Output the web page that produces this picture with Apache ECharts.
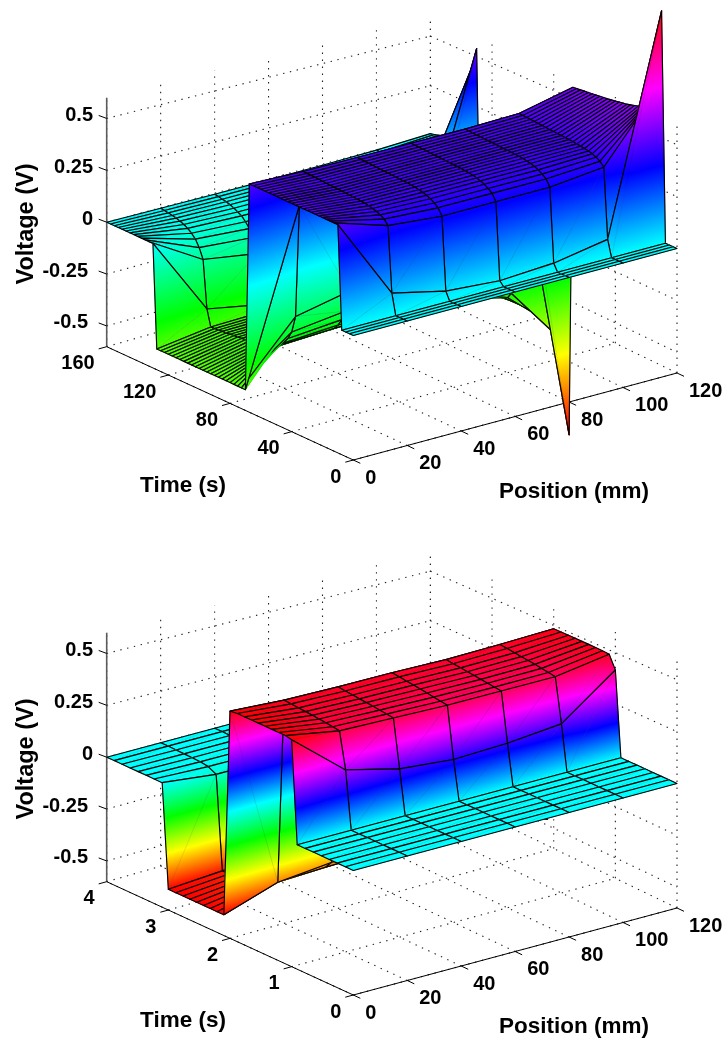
<!DOCTYPE html>
<html>
<head>
<meta charset="utf-8">
<style>html,body{margin:0;padding:0;background:#fff}#c{width:724px;height:1039px}</style>
<script src="https://cdn.jsdelivr.net/npm/echarts@6/dist/echarts.min.js"></script>
</head>
<body>
<div id="c"></div>
<script>
// ---------- data ----------
const positions = [0, 20, 40, 60, 80, 100, 120];
const positionTicks = [0, 20, 40, 60, 80, 100, 120];
const voltageTicks = [-0.5, -0.25, 0, 0.25, 0.5];
const timeTicksTop = [0, 40, 80, 120, 160];
const timeTicksBottom = [0, 1, 2, 3, 4];

const timesTop = [0,2.5,5,7.5,10,12.5,15,17.5,20,22.5,25,27.5,30,32.5,35,37.5,40,42.5,45,47.5,50,52.5,55,57.5,60,62.5,65,67.5,
  70,72.5,75,77.5,80,82.5,85,87.5,90,92.5,95,97.5,100,102.5,105,107.5,110,112.5,115,117.5,120,122.5,125,127.5,
  130,132.5,135,137.5,140,142.5,145,147.5,150,152.5,155,157.5,160];
const voltsTop = [
[0,0,0,0,0,0,0],[0,0,0,0,0,0,0],[0,0,0,0,0,0,0],[0,0,0,0,0,0,0],
[.50,.10,.04,.02,.035,.08,1.115],
[.50,.417,.393,.393,.393,.42,.73],
[.50,.44,.425,.425,.425,.44,.68],
[.50,.452,.44,.44,.44,.452,.65],
[.50,.46,.452,.452,.452,.46,.63],
[.50,.466,.46,.46,.46,.465,.615],
[.50,.47,.466,.466,.466,.469,.605],
[.50,.474,.47,.47,.47,.472,.60],
[.50,.476,.474,.474,.474,.475,.595],
[.50,.478,.476,.476,.476,.477,.59],
[.50,.479,.478,.478,.478,.479,.587],
[.50,.48,.479,.479,.479,.48,.584],
[.50,.481,.48,.48,.48,.482,.581],
[.50,.482,.481,.481,.481,.483,.578],
[.50,.483,.482,.482,.482,.485,.575],
[.50,.484,.483,.483,.483,.486,.573],
[.50,.485,.484,.484,.484,.488,.571],
[.50,.486,.485,.485,.485,.489,.569],
[.50,.487,.486,.486,.486,.491,.567],
[.50,.488,.487,.487,.487,.492,.565],
[.50,.489,.488,.488,.488,.494,.563],
[.50,.49,.489,.489,.489,.495,.561],
[.50,.491,.49,.49,.49,.497,.559],
[.50,.492,.491,.491,.491,.498,.557],
[-.5,.32,.40,.43,.41,.40,-1.16],
[-.5,-.227,-.174,-.16,-.25,-.40,-.72],
[-.5,-.31,-.28,-.27,-.33,-.43,-.66],
[-.5,-.35,-.33,-.325,-.37,-.44,-.63],
[-.5,-.38,-.365,-.36,-.39,-.445,-.61],
[-.5,-.40,-.39,-.385,-.405,-.447,-.60],
[-.5,-.415,-.405,-.40,-.415,-.449,-.597],
[-.5,-.425,-.418,-.415,-.423,-.451,-.594],
[-.5,-.432,-.428,-.425,-.43,-.452,-.591],
[-.5,-.438,-.434,-.432,-.436,-.454,-.588],
[-.5,-.442,-.44,-.438,-.44,-.456,-.585],
[-.5,-.445,-.443,-.441,-.443,-.458,-.582],
[-.5,-.447,-.445,-.443,-.445,-.46,-.579],
[-.5,-.449,-.447,-.445,-.447,-.461,-.576],
[-.5,-.451,-.449,-.447,-.449,-.462,-.573],
[-.5,-.453,-.451,-.449,-.451,-.463,-.57],
[-.5,-.455,-.453,-.451,-.453,-.464,-.567],
[-.5,-.457,-.455,-.453,-.455,-.465,-.564],
[-.5,-.459,-.457,-.455,-.457,-.466,-.561],
[-.5,-.461,-.459,-.457,-.459,-.467,-.558],
[-.5,-.462,-.46,-.458,-.46,-.468,-.555],
[-.5,-.464,-.461,-.459,-.461,-.469,-.552],
[-.5,-.466,-.462,-.46,-.462,-.47,-.549],
[-.5,-.467,-.463,-.461,-.463,-.471,-.546],
[0,-.388,-.44,-.44,-.42,-.35,.54],
[0,-.157,-.2,-.2,-.2,-.15,.45],
[0,-.108,-.13,-.13,-.13,-.10,.30],
[0,-.075,-.095,-.095,-.095,-.07,.20],
[0,-.055,-.07,-.07,-.07,-.05,.14],
[0,-.04,-.05,-.055,-.05,-.035,.10],
[0,-.03,-.04,-.042,-.04,-.025,.07],
[0,-.022,-.03,-.032,-.03,-.018,.05],
[0,-.016,-.022,-.024,-.022,-.012,.035],
[0,-.012,-.016,-.018,-.016,-.008,.025],
[0,-.008,-.012,-.013,-.012,-.005,.018],
[0,-.005,-.008,-.009,-.008,-.003,.012],
[0,-.003,-.005,-.006,-.005,-.002,.008]
];

const timesBottom = [0,.13,.26,.39,.52,.65,.78,.91,1.0,1.1,1.21,1.32,1.43,1.54,1.65,1.76,1.88,2.0,
  2.1,2.21,2.32,2.43,2.54,2.65,2.76,2.88,3.0,3.1,3.23,3.36,3.49,3.62,3.75,3.88,4.0];
const voltsBottom = [
[0,0,0,0,0,0,0],[0,0,0,0,0,0,0],[0,0,0,0,0,0,0],[0,0,0,0,0,0,0],
[0,0,0,0,0,0,0],[0,0,0,0,0,0,0],[0,0,0,0,0,0,0],[0,0,0,0,0,0,0],
[.494,.279,.214,.19,.199,.223,.415],
[.50,.454,.447,.439,.439,.439,.479],
[.50,.459,.451,.444,.443,.445,.481],
[.50,.463,.455,.449,.447,.45,.482],
[.50,.466,.459,.454,.451,.455,.483],
[.50,.469,.462,.459,.455,.459,.483],
[.50,.472,.465,.463,.459,.463,.484],
[.50,.475,.469,.467,.463,.467,.484],
[.50,.478,.472,.472,.467,.472,.484],
[.495,.48,.476,.476,.471,.476,.484],
[-.5,-.415,-.39,-.38,-.39,-.40,-.47],
[-.5,-.44,-.43,-.425,-.43,-.44,-.475],
[-.5,-.455,-.445,-.44,-.445,-.45,-.478],
[-.5,-.465,-.455,-.45,-.455,-.46,-.48],
[-.5,-.47,-.462,-.458,-.462,-.465,-.482],
[-.5,-.475,-.468,-.464,-.468,-.47,-.484],
[-.5,-.478,-.472,-.469,-.472,-.474,-.486],
[-.5,-.481,-.476,-.474,-.476,-.478,-.488],
[-.5,-.484,-.48,-.478,-.48,-.482,-.49],
[0,-.03,-.03,-.03,-.03,-.03,0],
[0,-.01,-.012,-.012,-.012,-.01,0],
[0,-.005,-.006,-.006,-.006,-.005,0],
[0,-.003,-.003,-.003,-.003,-.003,0],
[0,-.002,-.002,-.002,-.002,-.002,0],
[0,-.001,-.001,-.001,-.001,-.001,0],
[0,0,0,0,0,0,0],
[0,0,0,0,0,0,0]
];

// ---------- oblique view of the box ----------
const POS_MAX = 120, Z_MIN = -0.6, Z_MAX = 0.6;
const view = {x0:353.3, xu:323.7, xv:-246.6, y0:335.5, yu:-87, yv:-113.3, zs:207.5, persp:0.045};
function proj(p, t, V, tMax){
  const u = p/POS_MAX, v = t/tMax;
  return [view.x0 + view.xu*u + view.xv*v,
          view.y0 + view.yu*u + view.yv*v - V*view.zs*(1 - view.persp*u*v)];
}
// MATLAB hsv colormap
const hsvStops = ['#ff0000','#ffff00','#00ff00','#00ffff','#0000ff','#ff00ff','#ff0000'];
const colorStops = hsvStops.map((color,i)=>({offset:i/6,color}));
function solid(c){
  c = Math.max(0,Math.min(1,c))*6;
  const i = Math.min(5,Math.floor(c)), f = c-i;
  const a = hsvStops[i], b = hsvStops[i+1];
  const ch = k => Math.round(parseInt(a.substr(k,2),16)*(1-f)+parseInt(b.substr(k,2),16)*f);
  return 'rgb('+ch(1)+','+ch(3)+','+ch(5)+')';
}
function triFill(a,b,c){
  const dx1=b[0]-a[0],dy1=b[1]-a[1],dc1=b[2]-a[2],dx2=c[0]-a[0],dy2=c[1]-a[1],dc2=c[2]-a[2];
  const det=dx1*dy2-dx2*dy1;
  if(Math.abs(det)<1e-4) return null;
  const A=(dc1*dy2-dc2*dy1)/det, B=(dx1*dc2-dx2*dc1)/det, n=A*A+B*B;
  if(n<1e-9) return solid((a[2]+b[2]+c[2])/3);
  return {type:'linear',global:true,colorStops,
    x:a[0]+(0-a[2])*A/n, y:a[1]+(0-a[2])*B/n,
    x2:a[0]+(1-a[2])*A/n, y2:a[1]+(1-a[2])*B/n};
}

function surfaceSeries(idx, times, volts, vMax){
  const tMax = times[times.length-1];
  const facets = [];
  for(let i=times.length-2;i>=0;i--) for(let j=positions.length-2;j>=0;j--) facets.push([i,j]);
  return {
    type:'custom', coordinateSystem:'cartesian2d', xAxisIndex:idx, yAxisIndex:idx,
    clip:false, silent:true, animation:false, progressive:0, z:3, data:facets,
    encode:{x:0,y:1},
    renderItem(params, api){
      const i=api.value(0), j=api.value(1);
      const pt=(r,k)=>{
        const V=volts[r][k];
        const c=api.coord(proj(positions[k],times[r],V,tMax));
        return [c[0],c[1],0.5+V/(2*vMax)];
      };
      const A=pt(i,j),B=pt(i,j+1),C=pt(i+1,j+1),D=pt(i+1,j);
      const xy=q=>[q[0],q[1]];
      const children=[];
      const tri=(a,b,c)=>{
        const fill=triFill(a,b,c);
        if(fill) children.push({type:'polygon',shape:{points:[a,b,c].map(xy)},
          style:{fill,stroke:fill,lineWidth:0.7,lineJoin:'round'},silent:true});
      };
      tri(A,C,D);
      tri(A,B,C);
      children.push({type:'line',shape:{x1:A[0],y1:A[1],x2:C[0],y2:C[1]},
        style:{stroke:'rgba(0,0,0,0.16)',lineWidth:0.6,fill:'none'},silent:true});
      children.push({type:'polygon',shape:{points:[A,B,C,D].map(xy)},
        style:{fill:'none',stroke:'#000',lineWidth:1.15,lineJoin:'round'},silent:true});
      return {type:'group',children};
    }
  };
}

function boxSeries(idx, timeTicks){
  const tMax = timeTicks[timeTicks.length-1];
  return {
    type:'custom', coordinateSystem:'cartesian2d', xAxisIndex:idx, yAxisIndex:idx,
    clip:false, silent:true, animation:false, z:1, data:[[0,0]], encode:{x:0,y:1},
    renderItem(params, api){
      const children=[];
      const P=(p,t,V)=>api.coord(proj(p,t,V,tMax));
      const line=(a,b,style)=>children.push({type:'line',shape:{x1:a[0],y1:a[1],x2:b[0],y2:b[1]},style,silent:true});
      const dot={stroke:'#222',lineWidth:1.1,lineDash:[1.4,5.6],fill:'none'};
      const solidL={stroke:'#000',lineWidth:1,fill:'none'};
      const zL={stroke:'#5a5a5a',lineWidth:1.6,fill:'none'};
      positionTicks.forEach(p=>{
        line(P(p,0,Z_MIN),P(p,tMax,Z_MIN),dot);
        line(P(p,tMax,Z_MIN),P(p,tMax,Z_MAX),dot);
      });
      timeTicks.forEach(t=>{
        line(P(0,t,Z_MIN),P(POS_MAX,t,Z_MIN),dot);
        line(P(POS_MAX,t,Z_MIN),P(POS_MAX,t,Z_MAX),dot);
      });
      voltageTicks.forEach(V=>{
        line(P(0,tMax,V),P(POS_MAX,tMax,V),dot);
        line(P(POS_MAX,tMax,V),P(POS_MAX,0,V),dot);
      });
      line(P(0,0,Z_MIN),P(POS_MAX,0,Z_MIN),solidL);
      line(P(0,0,Z_MIN),P(0,tMax,Z_MIN),solidL);
      line(P(0,tMax,Z_MIN),P(0,tMax,Z_MAX),zL);
      const font='bold 20px "Liberation Sans", Arial, sans-serif';
      const text=(x,y,s,align,f)=>children.push({type:'text',silent:true,
        style:{x,y,text:s,fill:'#000',font:f||font,textAlign:align,textVerticalAlign:'middle',verticalAlign:'middle'}});
      positionTicks.forEach(p=>{
        const a=P(p,0,Z_MIN);
        line(a,[a[0]+7,a[1]+3.3],solidL);
        text(a[0]+12,a[1]+18,String(p),'left');
      });
      timeTicks.forEach(t=>{
        const a=P(0,t,Z_MIN);
        line(a,[a[0]-8,a[1]+2.2],solidL);
        text(a[0]-12,a[1]+17,String(t),'right');
      });
      voltageTicks.forEach(V=>{
        const a=P(0,tMax,V);
        line(a,[a[0]-8,a[1]-3],solidL);
        text(V<0?88:93,a[1]-3,String(V),'right');
      });
      const o=api.coord([0,0]);
      const tf='bold 22.5px "Liberation Sans", Arial, sans-serif';
      text(o[0]+183,o[1]+486,'Time (s)','center',tf);
      text(o[0]+574,o[1]+492,'Position (mm)','center',tf);
      children.push({type:'text',silent:true,x:o[0]+27,y:o[1]+224,rotation:Math.PI/2,
        style:{x:0,y:0,text:'Voltage (V)',fill:'#000',font:'bold 23.5px "Liberation Sans", Arial, sans-serif',textAlign:'center',textVerticalAlign:'middle',verticalAlign:'middle'}});
      return {type:'group',children};
    }
  };
}

const PANEL_H = 504;
const axisX = i=>({type:'value',gridIndex:i,min:0,max:724,show:false});
const axisY = i=>({type:'value',gridIndex:i,min:0,max:PANEL_H,inverse:true,show:false});
const chart = echarts.init(document.getElementById('c'),null,{width:724,height:1039,renderer:'canvas'});
chart.setOption({
  animation:false,
  backgroundColor:'#fff',
  grid:[{left:0,top:0,width:724,height:PANEL_H},{left:0,top:535,width:724,height:PANEL_H}],
  xAxis:[axisX(0),axisX(1)],
  yAxis:[axisY(0),axisY(1)],
  series:[
    boxSeries(0,timeTicksTop),
    surfaceSeries(0,timesTop,voltsTop,1.13),
    boxSeries(1,timeTicksBottom),
    surfaceSeries(1,timesBottom,voltsBottom,0.5)
  ]
});
</script>
</body>
</html>
